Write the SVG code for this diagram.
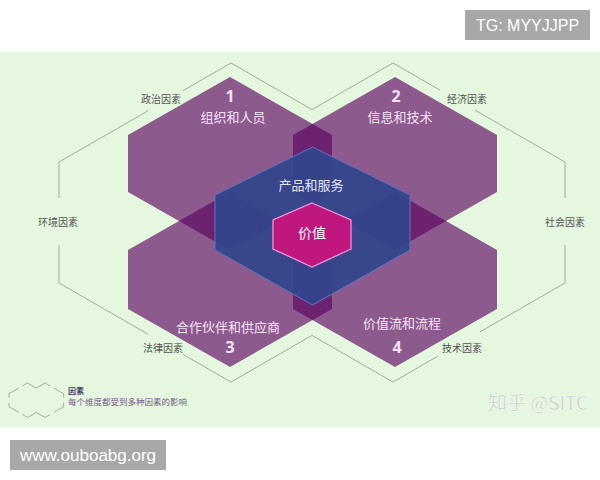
<svg xmlns="http://www.w3.org/2000/svg" width="600" height="480" viewBox="0 0 600 480">
<style>
.hex{fill:#5c0461;fill-opacity:0.65}
.lbl{font-family:"Noto Sans CJK SC","Noto Sans",sans-serif;font-size:13px;fill:#f6e2f6;text-anchor:middle}
.num{font-family:"Noto Sans","Noto Sans CJK SC",sans-serif;font-size:16px;font-weight:bold;fill:#f6e2f6;text-anchor:middle}
.fac{font-family:"Noto Sans CJK SC",sans-serif;font-size:10px;fill:#555555;text-anchor:middle}
.frame{fill:none;stroke:#8c9a86;stroke-width:0.8}
.tag{fill:#a8a8a8}
.tagt{font-family:"Liberation Sans",Arial,sans-serif;font-size:16px;fill:#ffffff}
</style>
<defs>
<path id="outline" d="M59,198 V162 L148,110.8 M183,90.6 L231,63 L312,109.6 L393,63 L440,90.1 M475,110.2 L565,162 V198 M59,245 V283 L148,334.2 M183,354.4 L231,382 L312,335.4 L393,382 L438,356.1 M480,331.9 L565,283 V245"/>
</defs>
<rect x="0" y="0" width="600" height="480" fill="#ffffff"/>
<rect x="0" y="52" width="600" height="375" fill="#e5f8df"/>
<g id="frame">
<use href="#outline" class="frame"/>
</g>
<g id="factors">
<text class="fac" x="161" y="103">政治因素</text>
<text class="fac" x="467" y="103">经济因素</text>
<text class="fac" x="58" y="226">环境因素</text>
<text class="fac" x="565" y="226">社会因素</text>
<text class="fac" x="163" y="352">法律因素</text>
<text class="fac" x="462" y="352">技术因素</text>
</g>
<g id="connectors"></g>
<g id="hex1">
<path class="hex" d="M230,77 L332,135 L332,192 L230,250 L128,192 L128,135 Z"/>
<text class="num" x="230" y="102">1</text>
<text class="lbl" x="233" y="122">组织和人员</text>
</g>
<g id="hex2">
<path class="hex" d="M395,77 L497,135 L497,192 L395,250 L293,192 L293,135 Z"/>
<text class="num" x="396" y="102">2</text>
<text class="lbl" x="400" y="122">信息和技术</text>
</g>
<g id="hex3">
<path class="hex" d="M230,192 L332,250 L332,309 L230,367 L128,309 L128,250 Z"/>
<text class="lbl" x="228" y="332">合作伙伴和供应商</text>
<text class="num" x="230" y="353">3</text>
</g>
<g id="hex4">
<path class="hex" d="M395,192 L497,250 L497,309 L395,367 L293,309 L293,250 Z"/>
<text class="lbl" x="402" y="328">价值流和流程</text>
<text class="num" x="397" y="353">4</text>
</g>
<g id="products">
<path d="M312.5,147 L410,195 L410,250 L312.5,305 L215,250 L215,195 Z" fill="#34468c" fill-opacity="0.95" stroke="#6072c2" stroke-width="1"/>
<text class="lbl" x="311" y="190" style="fill:#e4e6f6">产品和服务</text>
</g>
<g id="value">
<path d="M312,203 L351,220 L351,249 L312,267 L273,249 L273,220 Z" fill="#c0177f" stroke="#f093dc" stroke-width="1.3"/>
<text class="lbl" x="312" y="238" style="fill:#ffffff;font-size:14px">价值</text>
</g>
<g id="legend">
<use href="#outline" class="frame" transform="translate(9,383) scale(0.108) translate(-59,-63)" style="stroke-width:7"/>
<text x="68" y="394" style="font-family:'Noto Sans CJK SC',sans-serif;font-size:8px;font-weight:bold;fill:#4a3a6a">因素</text>
<text x="68" y="405" style="font-family:'Noto Sans CJK SC',sans-serif;font-size:8.5px;fill:#7a5a8a">每个维度都受到多种因素的影响</text>
</g>
<g id="watermark">
<text x="488" y="410" style="font-family:'Noto Sans CJK SC','Noto Sans',sans-serif;font-size:19px;fill:#c2c8c2;stroke:#ffffff;stroke-width:0.4">知乎 @SITC</text>
</g>
<g id="tag-top">
<rect class="tag" x="465" y="10" width="125" height="30"/>
<text class="tagt" x="527.5" y="31" text-anchor="middle">TG: MYYJJPP</text>
</g>
<g id="tag-bottom">
<rect class="tag" x="10" y="440" width="156" height="30"/>
<text class="tagt" x="88" y="461" text-anchor="middle" style="font-size:17px">www.ouboabg.org</text>
</g>
</svg>
